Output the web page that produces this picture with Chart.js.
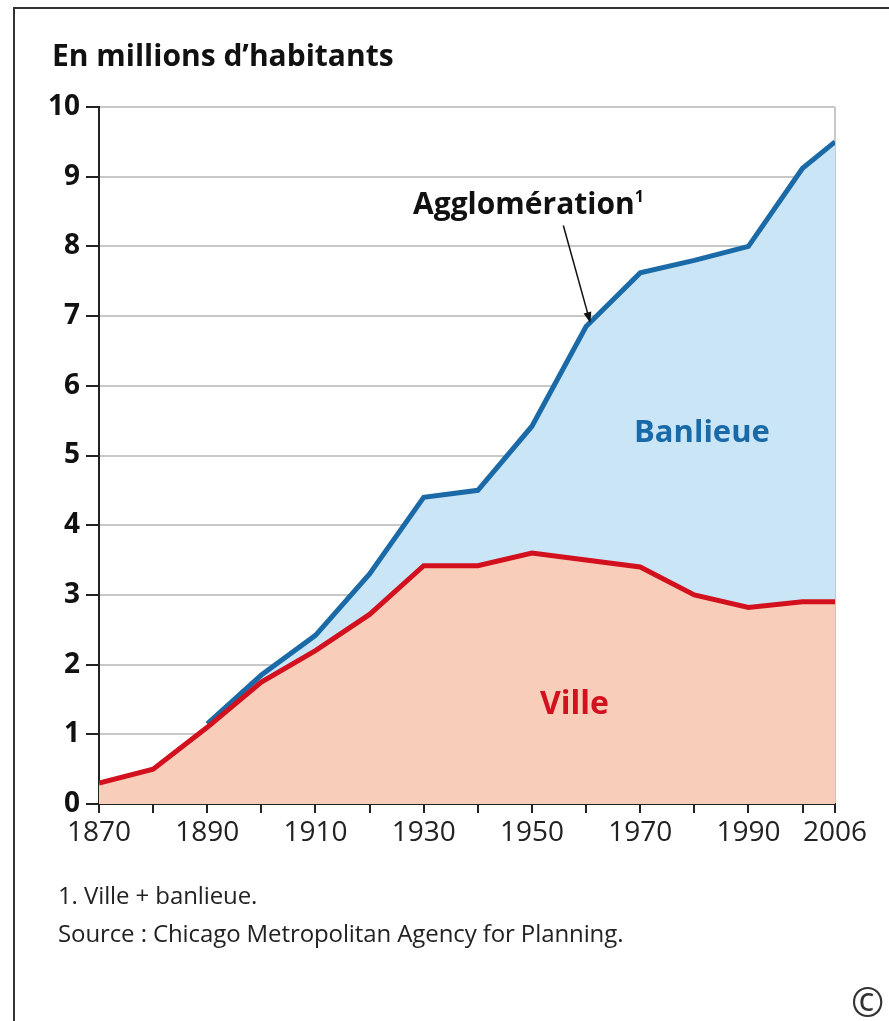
<!DOCTYPE html>
<html lang="fr">
<head>
<meta charset="utf-8">
<script src="https://cdn.jsdelivr.net/npm/chart.js@4/dist/chart.umd.min.js"></script>
<style>
  html, body { margin: 0; padding: 0; background: #fff; }
  body { width: 889px; height: 1021px; position: relative; overflow: hidden; font-family: "Open Sans", sans-serif; }
  #frame { position: absolute; left: 13px; top: 7px; width: 900px; height: 1100px; border-left: 2px solid #333; border-top: 2px solid #333; }
  #wrap { position: absolute; left: 0; top: 0; width: 889px; height: 1021px; }
  .txt { position: absolute; white-space: nowrap; line-height: 1; }
  #title { left: 52px; top: 40px; font-weight: 700; font-size: 30px; color: #111; }
  #aggl { left: 413px; top: 188px; font-weight: 700; font-size: 30px; color: #111; }
  #aggl sup { font-size: 16px; vertical-align: 12px; }
  #banl { left: 634px; top: 415px; font-weight: 700; font-size: 31px; color: #1b6aa8; }
  #ville { left: 540px; top: 686px; font-weight: 700; font-size: 32px; color: #d2101e; }
  #note { left: 58px; top: 883px; font-size: 24px; color: #222; letter-spacing: -0.1px; }
  #src { left: 58px; top: 921px; font-size: 24px; color: #222; letter-spacing: -0.1px; }
  #copy { left: 851px; top: 982px; font-size: 40px; color: #333; }
</style>
</head>
<body>
<div id="frame"></div>
<div id="wrap"><canvas id="chart"></canvas></div>
<div class="txt" id="title">En millions d’habitants</div>
<div class="txt" id="aggl">Agglomération<sup>1</sup></div>
<div class="txt" id="banl">Banlieue</div>
<div class="txt" id="ville">Ville</div>
<div class="txt" id="note">1. Ville + banlieue.</div>
<div class="txt" id="src">Source : Chicago Metropolitan Agency for Planning.</div>
<div class="txt" id="copy">©</div>
<script>
'use strict';

// années et valeurs (millions d'habitants)
const villeYears = [1870, 1880, 1890, 1900, 1910, 1920, 1930, 1940, 1950, 1960, 1970, 1980, 1990, 2000, 2006];
const villeValues = [0.3, 0.5, 1.1, 1.75, 2.2, 2.72, 3.42, 3.42, 3.6, 3.5, 3.4, 3.0, 2.82, 2.9, 2.9];

const agglYears = [1890, 1900, 1910, 1920, 1930, 1940, 1950, 1960, 1970, 1980, 1990, 2000, 2006];
const agglValues = [1.15, 1.85, 2.42, 3.3, 4.4, 4.5, 5.42, 6.85, 7.62, 7.8, 8.0, 9.12, 9.5];

const xTickValues = [1870, 1880, 1890, 1900, 1910, 1920, 1930, 1940, 1950, 1960, 1970, 1980, 1990, 2000, 2006];
const xTickLabels = [1870, 1890, 1910, 1930, 1950, 1970, 1990, 2006];

const toPoints = (xs, ys) => xs.map((x, i) => ({ x: x, y: ys[i] }));

// flèche "Agglomération" vers la courbe
const arrowPlugin = {
  id: 'arrow',
  afterDatasetsDraw(chart) {
    const { ctx, scales: { x, y } } = chart;
    const x1 = x.getPixelForValue(1955.8), y1 = y.getPixelForValue(8.3);
    const x2 = x.getPixelForValue(1960.8), y2 = y.getPixelForValue(6.9);
    const ang = Math.atan2(y2 - y1, x2 - x1);
    ctx.save();
    ctx.strokeStyle = '#111';
    ctx.fillStyle = '#111';
    ctx.lineWidth = 1.5;
    ctx.beginPath();
    ctx.moveTo(x1, y1);
    ctx.lineTo(x2 - 8 * Math.cos(ang), y2 - 8 * Math.sin(ang));
    ctx.stroke();
    ctx.beginPath();
    ctx.moveTo(x2, y2);
    ctx.lineTo(x2 - 11 * Math.cos(ang) + 4 * Math.sin(ang), y2 - 11 * Math.sin(ang) - 4 * Math.cos(ang));
    ctx.lineTo(x2 - 11 * Math.cos(ang) - 4 * Math.sin(ang), y2 - 11 * Math.sin(ang) + 4 * Math.cos(ang));
    ctx.closePath();
    ctx.fill();
    ctx.restore();
  }
};

const ctx = document.getElementById('chart').getContext('2d');

new Chart(ctx, {
  type: 'line',
  data: {
    datasets: [{
      label: 'Agglomération',
      data: toPoints(agglYears, agglValues),
      borderColor: '#1b6aa8',
      backgroundColor: '#c9e5f6',
      borderWidth: 5,
      pointRadius: 0,
      tension: 0,
      fill: 1,
      order: 2
    }, {
      label: 'Ville',
      data: toPoints(villeYears, villeValues),
      borderColor: '#d2101e',
      backgroundColor: '#f8cdb9',
      borderWidth: 5,
      pointRadius: 0,
      tension: 0,
      fill: 'origin',
      order: 1
    }]
  },
  options: {
    responsive: true,
    maintainAspectRatio: false,
    animation: false,
    layout: { padding: { left: 34, top: 107, right: 54, bottom: 167 } },
    plugins: {
      legend: { display: false },
      tooltip: { enabled: false },
      filler: { drawTime: 'beforeDatasetsDraw' }
    },
    scales: {
      x: {
        type: 'linear',
        min: 1870,
        max: 2006,
        afterFit: s => { s.height = 50; },
        afterBuildTicks: s => { s.ticks = xTickValues.map(v => ({ value: v })); },
        border: { display: true, color: '#222', width: 2 },
        grid: {
          drawOnChartArea: true,
          color: c => c.tick && c.tick.value === 2006 ? '#c8c8c8' : 'rgba(0,0,0,0)',
          lineWidth: 2,
          drawTicks: true,
          tickColor: '#222',
          tickLength: 9,
          tickWidth: 2
        },
        ticks: {
          autoSkip: false,
          maxRotation: 0,
          padding: 3,
          color: '#222',
          font: { family: 'Open Sans', size: 28 },
          callback: v => xTickLabels.includes(v) ? String(v) : ''
        }
      },
      y: {
        min: 0,
        max: 10,
        afterFit: s => { s.width = 65; },
        border: { display: true, color: '#222', width: 2 },
        grid: {
          color: '#c8c8c8',
          lineWidth: 2,
          drawTicks: true,
          tickColor: '#222',
          tickLength: 13,
          tickWidth: 2
        },
        ticks: {
          stepSize: 1,
          padding: 6,
          color: '#111',
          font: { family: 'Open Sans', size: 28, weight: 'bold' }
        }
      }
    }
  },
  plugins: [arrowPlugin]
});
</script>
</body>
</html>
